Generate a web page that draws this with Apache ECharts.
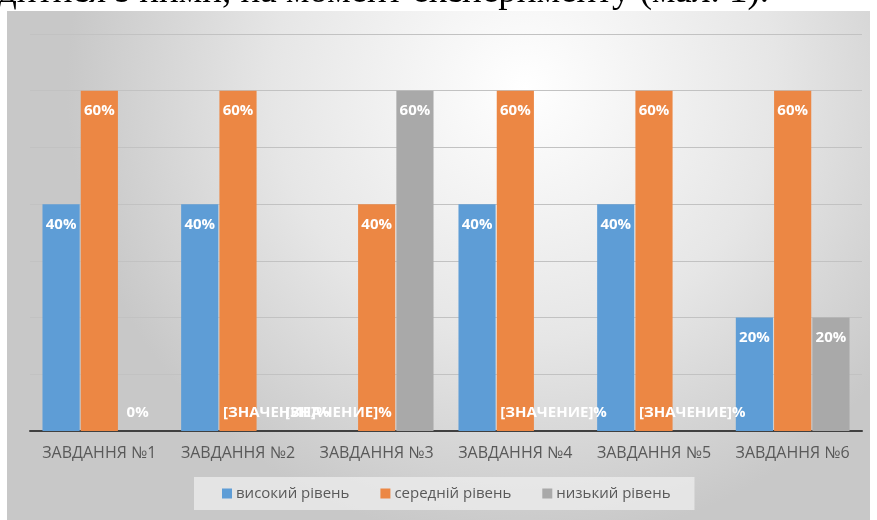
<!DOCTYPE html>
<html>
<head>
<meta charset="utf-8">
<script src="https://cdn.jsdelivr.net/npm/echarts@6/dist/echarts.min.js"></script>
<style>
  html, body { margin: 0; padding: 0; background: #fff; }
  #chart { width: 877px; height: 520px; }
</style>
</head>
<body>
<div id="chart"></div>
<script>
// категорії та значення (null = мітка без значення)
const categories = ['ЗАВДАННЯ №1', 'ЗАВДАННЯ №2', 'ЗАВДАННЯ №3', 'ЗАВДАННЯ №4', 'ЗАВДАННЯ №5', 'ЗАВДАННЯ №6'];
const highLevel = [40, 40, null, 40, 40, 20];
const midLevel = [60, 60, 40, 60, 60, 60];
const lowLevel = [0, null, 60, null, null, 20];
const seriesNames = ['високий рівень', 'середній рівень', 'низький рівень'];
const colors = ['#5E9DD6', '#EC8744', '#A9A9A9'];
const emptyLabel = '[ЗНАЧЕНИЕ]%';
const captionText = 'дитися з ними, на момент експерименту (мал. 1).';

let chart = echarts.init(document.getElementById('chart'));

// нульові та порожні значення - мітка над віссю
function toData(arr){
    return arr.map(function(v){
        if (v === null || v === 0) {
            return {
                value: 0,
                label: {position: 'top', distance: 11, formatter: v === null ? emptyLabel : '0%'}
            };
        }
        return v;
    });
}

function makeSeries(name, arr, color){
    return {
        name: name,
        type: 'bar',
        data: toData(arr),
        barGap: '3%',
        barCategoryGap: '18%',
        itemStyle: {color: color},
        label: {
            show: true,
            position: 'insideTop',
            distance: 13,
            color: '#fff',
            fontWeight: 'bold',
            fontSize: 15,
            fontFamily: 'Open Sans',
            formatter: '{c}%'
        }
    };
}

let option = {
    animation: false,
    color: colors,
    graphic: [
        {
            type: 'rect',
            z: -10,
            silent: true,
            shape: {x: 7, y: 11, width: 863, height: 509},
            style: {
                fill: new echarts.graphic.RadialGradient(0.6, 0.15, 0.9, [
                    {offset: 0, color: '#ffffff'},
                    {offset: 0.55, color: '#e6e6e6'},
                    {offset: 1, color: '#c8c8c8'}
                ])
            }
        },
        {
            type: 'text',
            z: 10,
            silent: true,
            left: -2,
            top: -26,
            style: {
                text: captionText,
                fontFamily: 'Liberation Serif',
                fontSize: 37,
                fill: '#000'
            }
        }
    ],
    grid: {left: 30, right: 15, top: 34, bottom: 89},
    legend: {
        left: 194,
        top: 477,
        data: seriesNames,
        icon: 'rect',
        itemWidth: 10,
        itemHeight: 10,
        itemGap: 31,
        padding: [9, 24, 9, 28],
        backgroundColor: 'rgba(238,238,238,0.75)',
        textStyle: {color: '#595959', fontSize: 15, fontFamily: 'Open Sans', padding: [0, 0, 0, -1]}
    },
    xAxis: {
        type: 'category',
        data: categories,
        axisTick: {show: false},
        axisLine: {lineStyle: {color: '#404040', width: 2}},
        axisLabel: {interval: 0, color: '#595959', fontSize: 16, fontFamily: 'Open Sans', margin: 14}
    },
    yAxis: {
        type: 'value',
        min: 0,
        max: 70,
        interval: 10,
        axisLabel: {show: false},
        axisLine: {show: false},
        splitLine: {lineStyle: {color: '#c2c2c2', width: 1}}
    },
    series: [
        makeSeries(seriesNames[0], highLevel, colors[0]),
        makeSeries(seriesNames[1], midLevel, colors[1]),
        makeSeries(seriesNames[2], lowLevel, colors[2])
    ]
};
chart.setOption(option);

window.onresize = function () {
    chart.resize();
};
</script>
</body>
</html>
